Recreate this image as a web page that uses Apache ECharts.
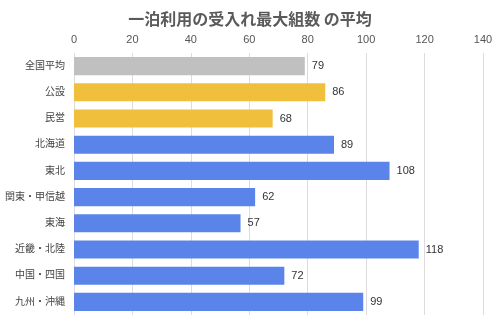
<!DOCTYPE html>
<html><head><meta charset="utf-8">
<script src="https://cdn.jsdelivr.net/npm/echarts@6/dist/echarts.min.js"></script>
<style>html,body{margin:0;padding:0;background:#fff}#c{width:500px;height:328px}</style>
</head><body><div id="c"></div>
<script>
const categories = ['全国平均','公設','民営','北海道','東北','関東・甲信越','東海','近畿・北陸','中国・四国','九州・沖縄'];
const values = [79, 86, 68, 89, 108, 62, 57, 118, 72, 99];
const colorGroups = ['avg','pub','pub','reg','reg','reg','reg','reg','reg','reg'];
const palette = {avg:'#c0c0c0', pub:'#f0bf3c', reg:'#5a84ea'};
const tickValues = [0,20,40,60,80,100,120,140];

const chart = echarts.init(document.getElementById('c'), null, {renderer:'canvas'});
const font = '"Liberation Sans", "Noto Sans CJK JP", sans-serif';
chart.setOption({
  animation:false,
  textStyle:{fontFamily:font},
  title:{text:'一泊利用の受入れ最大組数 の平均', left:'center', top:6,
    textStyle:{fontSize:16, fontWeight:'bold', color:'#5a5a5a', fontFamily:'"Noto Sans CJK JP", sans-serif'}},
  grid:{left:74, right:17, top:53, bottom:13, containLabel:false},
  xAxis:{type:'value', position:'top', min:tickValues[0], max:tickValues[tickValues.length-1], interval:20,
    axisLine:{show:false}, axisTick:{show:false},
    axisLabel:{color:'#555', fontSize:11, margin:8, fontFamily:font},
    splitLine:{lineStyle:{color:'#dcdcdc'}}},
  yAxis:{type:'category', inverse:true, data:categories,
    axisLine:{show:false}, axisTick:{show:false},
    axisLabel:{color:'#444', fontSize:10, margin:9, fontFamily:font}},
  series:[{type:'bar', barCategoryGap:'31%',
    data: values.map((v,i)=>({value:v, itemStyle:{color:palette[colorGroups[i]]}})),
    label:{show:true, position:'right', distance:7, color:'#333', fontSize:11, fontFamily:font}
  }]
});
</script></body></html>
